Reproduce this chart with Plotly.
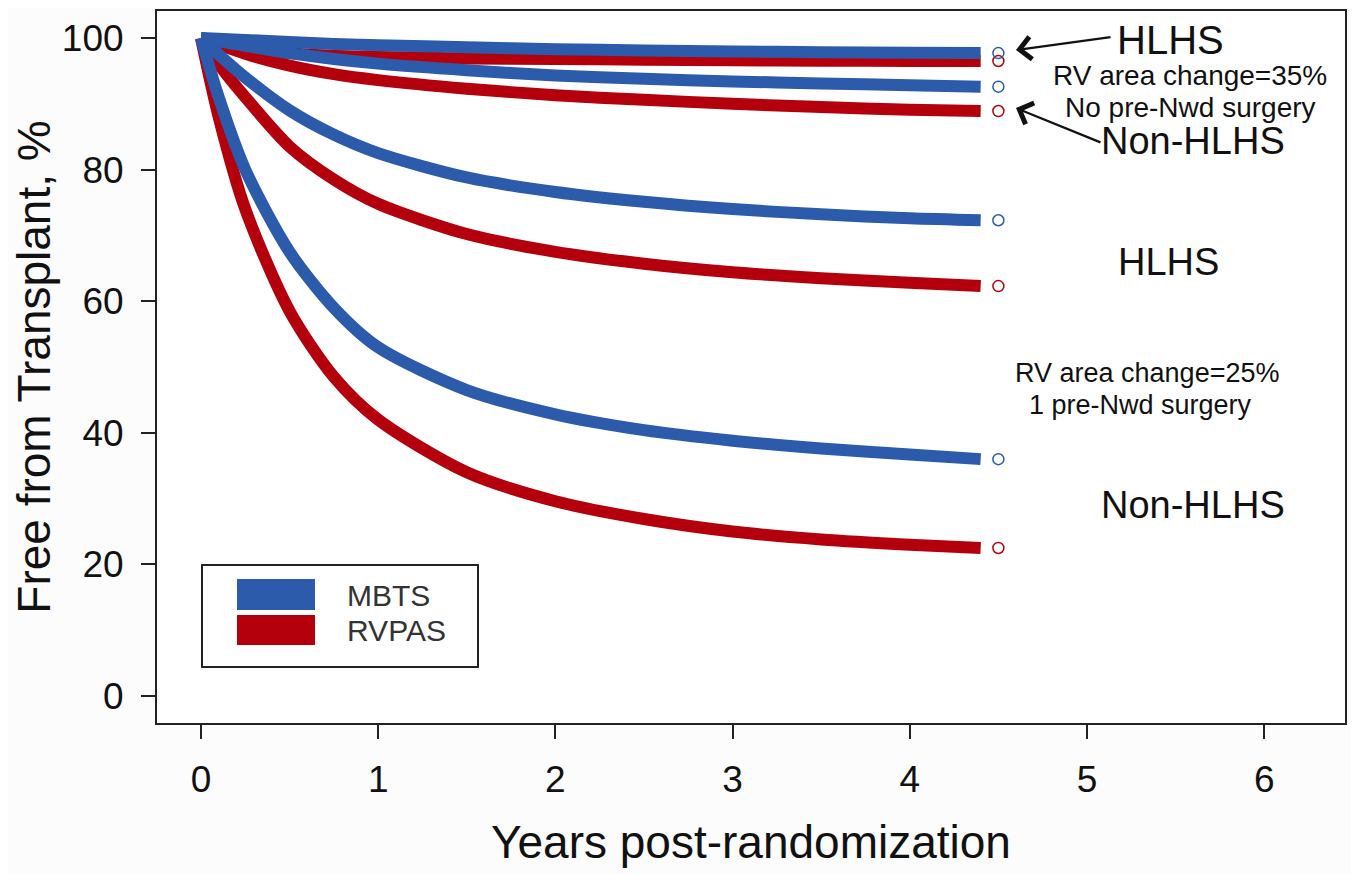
import plotly.graph_objects as go

# ---- data ----
years = [0, 0.1, 0.25, 0.5, 0.75, 1, 1.5, 2, 2.5, 3, 3.5, 4, 4.4]

mbts_hlhs_35 = [100, 99.9, 99.7, 99.4, 99.1, 98.9, 98.6, 98.3, 98.1, 97.95, 97.85, 97.75, 97.7]
rvpas_hlhs_35 = [100, 99.2, 98.4, 97.7, 97.3, 97.1, 96.9, 96.8, 96.7, 96.6, 96.55, 96.5, 96.5]
mbts_non_35 = [100, 99.5, 98.8, 97.7, 96.8, 96.1, 95.1, 94.3, 93.8, 93.4, 93.1, 92.8, 92.6]
rvpas_non_35 = [100, 99.0, 97.6, 95.8, 94.5, 93.6, 92.3, 91.3, 90.6, 90.0, 89.5, 89.1, 88.9]
mbts_hlhs_25 = [100, 97.5, 94.0, 89.0, 85.3, 82.5, 78.8, 76.6, 75.1, 74.0, 73.2, 72.6, 72.3]
rvpas_hlhs_25 = [100, 96.0, 91.0, 83.5, 78.5, 74.8, 70.2, 67.5, 65.7, 64.4, 63.5, 62.8, 62.3]
mbts_non_25 = [100, 91.0, 80.0, 67.5, 59.0, 53.0, 46.5, 42.8, 40.4, 38.8, 37.6, 36.7, 36.0]
rvpas_non_25 = [100, 88.0, 74.0, 58.5, 48.5, 42.0, 34.0, 29.6, 26.9, 25.0, 23.8, 23.0, 22.5]

end_year = 4.5
x_ticks = [0, 1, 2, 3, 4, 5, 6]
y_ticks = [0, 20, 40, 60, 80, 100]

BLUE = "#2B5BAA"
RED = "#B3000C"
FONT = "Liberation Sans, Arial, sans-serif"

fig = go.Figure()

red_series = [rvpas_non_25, rvpas_hlhs_25, rvpas_non_35, rvpas_hlhs_35]
blue_series = [mbts_non_25, mbts_hlhs_25, mbts_non_35, mbts_hlhs_35]

for ys, col in [(s, RED) for s in red_series] + [(s, BLUE) for s in blue_series]:
    fig.add_trace(go.Scatter(x=years, y=ys, mode="lines",
                             line=dict(color=col, width=12, shape="spline", smoothing=0.8),
                             showlegend=False, hoverinfo="skip"))
for ys, col in [(s, RED) for s in red_series] + [(s, BLUE) for s in blue_series]:
    fig.add_trace(go.Scatter(x=[end_year], y=[ys[-1]], mode="markers",
                             marker=dict(symbol="circle-open", size=11, color=col,
                                         line=dict(width=1.5, color=col)),
                             showlegend=False, hoverinfo="skip"))

axis_common = dict(showline=True, linecolor="#222", linewidth=2, mirror=True,
                   ticks="outside", ticklen=14, tickwidth=2, tickcolor="#222",
                   showgrid=False, zeroline=False, automargin=False,
                   tickfont=dict(family=FONT, size=37, color="#111"))

fig.update_xaxes(range=[-0.248, 6.456], tickvals=x_ticks, ticklabelstandoff=9,
                 title=dict(text="Years post-randomization", standoff=26,
                            font=dict(family=FONT, size=46, color="#111")),
                 **axis_common)
fig.update_yaxes(range=[-4.1, 104.1], tickvals=y_ticks, ticklabelstandoff=10,
                 title=dict(text="Free from Transplant, %", standoff=20,
                            font=dict(family=FONT, size=46, color="#111")),
                 **axis_common)

# legend box (manual); positions given in page pixels of the plot frame
def px_x(p):
    return (p - 157) / 1188.0

def px_y(p):
    return (723 - p) / 712.0

shapes = [
    dict(type="rect", xref="paper", yref="paper", x0=px_x(202), x1=px_x(478),
         y0=px_y(667), y1=px_y(565), line=dict(color="#222", width=2), fillcolor="white"),
    dict(type="rect", xref="paper", yref="paper", x0=px_x(237), x1=px_x(315),
         y0=px_y(610), y1=px_y(579), line=dict(width=0), fillcolor=BLUE),
    dict(type="rect", xref="paper", yref="paper", x0=px_x(237), x1=px_x(315),
         y0=px_y(645), y1=px_y(615), line=dict(width=0), fillcolor=RED),
]
fig.update_layout(shapes=shapes)

ann = []
def txt(text, x, y, size, xanchor="center", color="#111"):
    ann.append(dict(text=text, xref="paper", yref="paper", x=px_x(x), y=px_y(y),
                    xanchor=xanchor, yanchor="middle", showarrow=False,
                    font=dict(family=FONT, size=size, color=color)))

txt("MBTS", 345, 595, 30, "left", "#333")
txt("RVPAS", 345, 630, 30, "left", "#333")
txt("HLHS", 1170, 40, 40)
txt("RV area change=35%", 1190, 75, 28)
txt("No pre-Nwd surgery", 1190, 107, 28)
txt("Non-HLHS", 1193, 141, 38)
txt("HLHS", 1168, 262, 38)
txt("RV area change=25%", 1147, 373, 27)
txt("1 pre-Nwd surgery", 1140, 405, 27)
txt("Non-HLHS", 1193, 505, 38)

# arrows
for (tx, ty, sx, sy) in [(1016, 50, 1112, 37), (1016, 108, 1102, 143)]:
    ann.append(dict(text="", xref="paper", yref="paper", x=px_x(tx), y=px_y(ty),
                    ax=sx - tx, ay=sy - ty, showarrow=True, arrowhead=4,
                    arrowsize=2, arrowwidth=2.2, arrowcolor="#111"))

fig.update_layout(annotations=ann)

# page body has an 8px margin, so the figure is offset by 8px
fig.update_layout(width=1351, height=866,
                  margin=dict(l=149, r=14, t=3, b=151),
                  paper_bgcolor="#FCFCFC", plot_bgcolor="#FFFFFF",
                  font=dict(family=FONT))

fig.write_html("out.html")
